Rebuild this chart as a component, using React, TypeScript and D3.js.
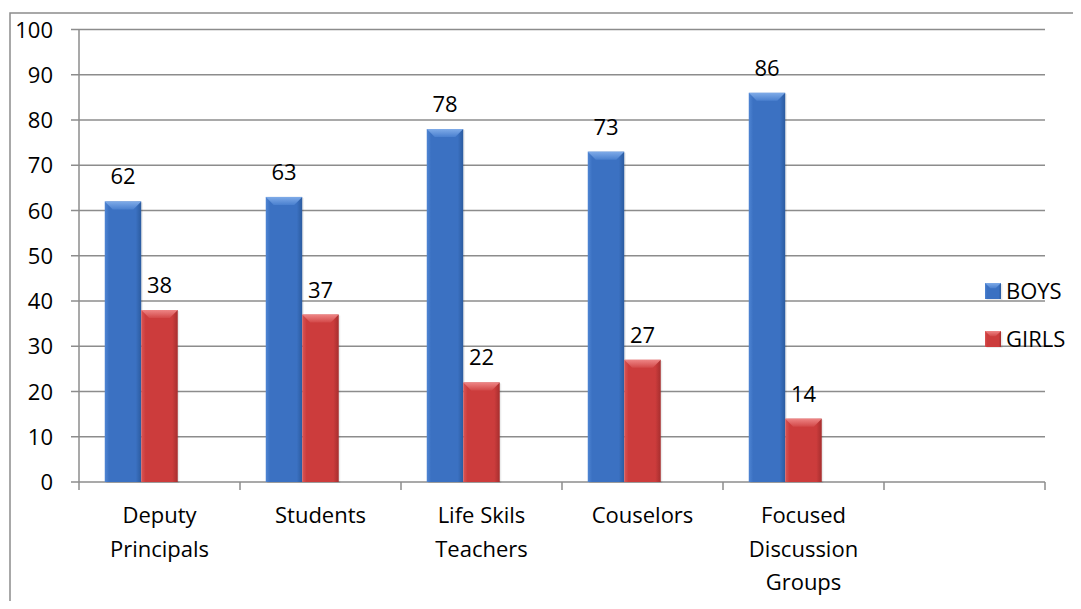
import React from "react";
import * as d3 from "d3";

const categories: string[][] = [
  ["Deputy", "Principals"],
  ["Students"],
  ["Life Skils", "Teachers"],
  ["Couselors"],
  ["Focused", "Discussion", "Groups"],
  [""],
];
const seriesNames = ["BOYS", "GIRLS", ""];
const boys = [62, 63, 78, 73, 86];
const girls = [38, 37, 22, 27, 14];
const yTicks = [0, 10, 20, 30, 40, 50, 60, 70, 80, 90, 100];

const W = 1081;
const H = 609;
const FONT = "'Open Sans', 'Liberation Sans', sans-serif";

const palettes: Record<string, { l: string; b: string; r: string; t1: string; t2: string }> = {
  BOYS: { l: "#4f85d3", b: "#3b71c2", r: "#2b5b9f", t1: "#7fabe8", t2: "#4a80cf" },
  GIRLS: { l: "#da5555", b: "#cc3c3c", r: "#a62e2e", t1: "#ee8585", t2: "#d24848" },
};

export default function App() {
  const left = 79, right = 1045, top = 29.5, bottom = 482;
  const x = d3.scaleBand<number>().domain(d3.range(categories.length)).range([left, right]).paddingInner(0).paddingOuter(0);
  const y = d3.scaleLinear().domain([0, 100]).range([bottom, top]);
  const slot = x.bandwidth();
  const gap = 25.75;
  const inner = d3.scaleBand<string>().domain(seriesNames).range([gap, slot - gap]).padding(0);
  const bw = inner.bandwidth();

  const bars: { s: string; i: number; v: number }[] = [];
  boys.forEach((v, i) => bars.push({ s: "BOYS", i, v }));
  girls.forEach((v, i) => bars.push({ s: "GIRLS", i, v }));

  const bev = 8;

  const renderBar = (s: string, x0: number, y0: number, w: number, h: number, key: string) => {
    const b = Math.min(bev, h / 2, w / 3);
    return (
      <g key={key}>
        <rect x={x0 + 1.5} y={y0 + 1} width={w} height={h} fill="#000" opacity={0.08} />
        <rect x={x0} y={y0} width={w} height={h} fill={`url(#g-${s})`} />
        <polygon
          points={`${x0},${y0} ${x0 + w},${y0} ${x0 + w - b},${y0 + b} ${x0 + b},${y0 + b}`}
          fill={`url(#t-${s})`}
        />
      </g>
    );
  };

  return (
    <svg width={W} height={H - 16} viewBox={`0 0 ${W} ${H - 16}`} style={{ display: "block" }}>
      <defs>
        {Object.entries(palettes).map(([k, p]) => (
          <React.Fragment key={k}>
            <linearGradient id={`g-${k}`} x1="0" x2="1" y1="0" y2="0">
              <stop offset="0" stopColor={p.l} />
              <stop offset="0.12" stopColor={p.b} />
              <stop offset="0.85" stopColor={p.b} />
              <stop offset="1" stopColor={p.r} />
            </linearGradient>
            <linearGradient id={`t-${k}`} x1="0" x2="0" y1="0" y2="1">
              <stop offset="0" stopColor={p.t1} />
              <stop offset="1" stopColor={p.t2} />
            </linearGradient>
          </React.Fragment>
        ))}
      </defs>
      <g transform="translate(-8,-8)">
        <rect x={10} y={13} width={W + 20} height={H + 20} fill="#fff" stroke="#8c8c8c" strokeWidth={1.5} />
        {yTicks.map((t) => (
          <g key={t}>
            <line x1={left - 8} x2={right} y1={y(t)} y2={y(t)} stroke="#8c8c8c" strokeWidth={1.5} />
            <text x={53} y={y(t) + 8} textAnchor="end" fontFamily={FONT} fontSize={22} fill="#000">
              {t}
            </text>
          </g>
        ))}
        <line x1={left} x2={left} y1={top} y2={bottom} stroke="#8c8c8c" strokeWidth={1.5} />
        {d3.range(categories.length + 1).map((i) => (
          <line key={i} x1={left + i * slot} x2={left + i * slot} y1={bottom} y2={bottom + 8} stroke="#8c8c8c" strokeWidth={1.5} />
        ))}
        {bars.map((d) => {
          const x0 = (x(d.i) as number) + (inner(d.s) as number);
          const y0 = y(d.v);
          return renderBar(d.s, x0, y0, bw, bottom - y0, `${d.s}-${d.i}`);
        })}
        {bars.map((d) => {
          const x0 = (x(d.i) as number) + (inner(d.s) as number);
          return (
            <text key={`l-${d.s}-${d.i}`} x={x0 + bw / 2} y={y(d.v) - 17} textAnchor="middle" fontFamily={FONT} fontSize={22} fill="#000">
              {d.v}
            </text>
          );
        })}
        {categories.map((lines, i) => (
          <text key={`c-${i}`} textAnchor="middle" fontFamily={FONT} fontSize={22} fill="#000">
            {lines.map((ln, j) => (
              <tspan key={j} x={(x(i) as number) + slot / 2} y={523 + j * 33.5}>
                {ln}
              </tspan>
            ))}
          </text>
        ))}
        {["BOYS", "GIRLS"].map((s, k) => {
          const ly = 283 + k * 48;
          return (
            <g key={`lg-${s}`}>
              {renderBar(s, 985, ly, 16, 16, `lgb-${s}`)}
              <text x={1006} y={ly + 16} fontFamily={FONT} fontSize={22} fill="#000">
                {s}
              </text>
            </g>
          );
        })}
      </g>
    </svg>
  );
}
